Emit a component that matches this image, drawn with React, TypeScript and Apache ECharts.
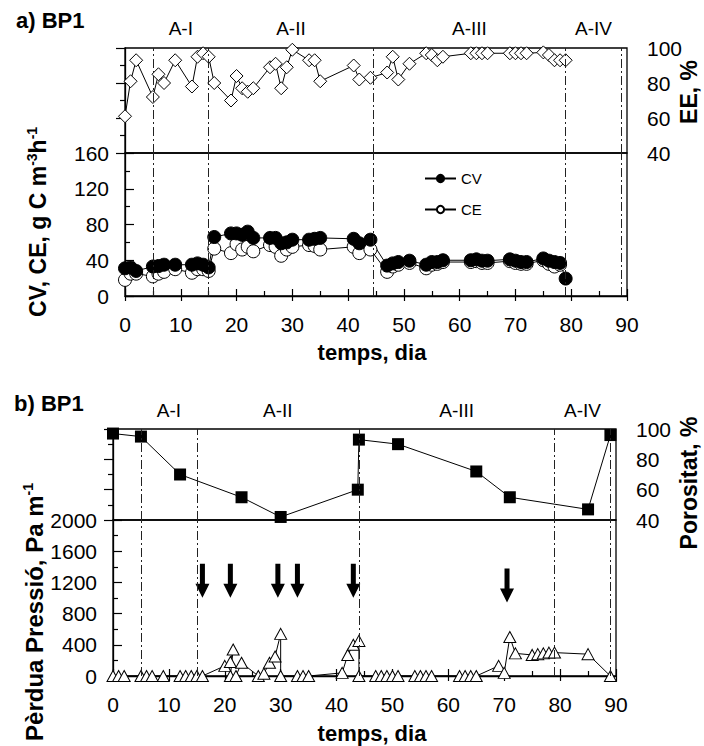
import React, { useEffect, useRef } from "react";
import * as echarts from "echarts";

// ---------- data ----------
// Panel a) : EE (%) and CV / CE (g C m-3 h-1) vs time (days)
const eeDays = [0, 1, 2, 5, 6, 7, 9, 12, 13, 14, 15, 16, 19, 20, 21, 22, 23, 26, 27, 28, 29, 30, 33, 34, 35, 41, 42, 44, 47, 48, 49, 51, 54, 55, 56, 57, 62, 63, 64, 65, 69, 70, 71, 72, 75, 76, 77, 78, 79];
const eeValues = [61, 81, 93, 72, 85, 80, 93, 78, 95, 97, 95, 80, 70, 84, 77, 75, 77, 89, 91, 77, 89, 99, 93, 93, 81, 90, 82, 83, 86, 95, 82, 91, 97, 96, 93, 95, 97, 97, 97, 97, 97, 97, 97, 97, 97.5, 96, 93, 93, 93];

const cvDays = [0, 1, 2, 5, 6, 7, 9, 12, 13, 14, 15, 16, 19, 20, 21, 22, 23, 26, 27, 28, 29, 30, 33, 34, 35, 41, 42, 44, 47, 48, 49, 51, 54, 55, 56, 57, 62, 63, 64, 65, 69, 70, 71, 72, 75, 76, 77, 78, 79];
const cvValues = [31, 32, 28, 33, 33.5, 35, 35, 35, 36.5, 35, 32, 66, 70, 70, 68.5, 72, 65, 65, 65, 59, 60, 63, 63, 64, 65, 64, 59, 63, 34, 36.5, 38, 39.5, 35, 38, 38, 40, 40, 41, 39.5, 39.5, 41, 39.5, 38, 38, 42, 39.5, 38, 37, 19.5];

const ceDays = [0, 1, 2, 5, 6, 7, 9, 12, 13, 14, 15, 16, 19, 20, 21, 22, 23, 26, 27, 28, 29, 30, 33, 34, 35, 41, 42, 44, 47, 48, 49, 51, 54, 55, 56, 57, 62, 63, 64, 65, 69, 70, 71, 72, 75, 76, 77, 78];
const ceValues = [18, 25, 25, 22, 25, 27, 30, 26, 30, 30, 28, 53, 48, 58, 52, 55, 50, 57, 55, 45, 52, 55, 57, 56, 52, 55, 48, 52, 27, 33, 35, 37, 31, 35, 36, 38, 38, 39, 37, 37, 39, 37, 36, 36, 40, 36, 33, 35];

// Panel b) : porosity (%) and pressure drop (Pa m-1) vs time (days)
const porDays = [0, 5, 12, 23, 30, 43.8, 44, 51, 65, 71, 85, 89];
const porValues = [97, 95, 70, 55, 42, 60, 93, 90, 72, 55, 47, 96];

const dpDays = [0, 1, 2, 5, 6, 7, 9, 12, 13, 14, 15, 16, 20, 21, 21.5, 21, 22, 23, 26, 27, 28, 29, 30, 30, 33, 34, 35, 41, 42, 43, 44, 44, 47, 48, 49, 50, 51, 54, 55, 56, 57, 62, 63, 64, 65, 69, 70, 71, 72, 75, 76, 77, 78, 79, 85, 89];
const dpValues = [0, 0, 0, 0, 0, 0, 0, 0, 0, 0, 0, 0, 130, 180, 340, 0, 0, 170, 0, 30, 170, 250, 540, 0, 0, 0, 0, 40, 270, 400, 450, 0, 0, 0, 0, 0, 0, 0, 0, 0, 0, 0, 0, 0, 0, 130, 40, 500, 290, 270, 280, 290, 300, 300, 280, 0];

// arrows (events) in panel b
const arrowDays = [16, 21, 29.5, 33, 43, 70.5];
const arrowLevels = [1220, 1220, 1220, 1220, 1220, 1160];

// phase boundaries and names
const phaseBoundsA = [5, 15, 44.5, 79, 89];
const phaseBoundsB = [5, 15, 44, 79, 89];
const phaseNames = ["A-I", "A-II", "A-III", "A-IV"];

// axis ticks
const xTicks = { min: 0, max: 90, interval: 10 };
const eeTicks = { min: 40, max: 100, interval: 20 };
const cvTicks = { min: 0, max: 160, interval: 40 };
const dpTicks = { min: 0, max: 2000, interval: 400 };

const FONT = "'Liberation Sans', Arial, Helvetica, sans-serif";

const ARROW = "path://M4.5,0 L9.5,0 L9.5,20 L14,20 L7,34 L0,20 L4.5,20 Z";

export default function App() {
  const ref = useRef<HTMLDivElement>(null);

  useEffect(() => {
    if (!ref.current) return;
    const chart = echarts.init(ref.current, null, { renderer: "svg" });

    const black = "#000";
    const lbl = { fontSize: 21, color: black, fontFamily: FONT, formatter: (v: number) => String(v) };

    const mk = (bounds: number[]) => ({
      silent: true,
      symbol: ["none", "none"],
      label: { show: false },
      lineStyle: { color: "#222", width: 1, type: [9, 3, 2, 3] },
      emphasis: { disabled: true },
      data: bounds.map((b) => ({ xAxis: b })),
    });

    const mids = (bounds: number[]) =>
      phaseNames.map((n, i) => ({ value: [(bounds[i] + bounds[i + 1]) / 2, 100], name: n }));

    const xMain = (gi: number) => ({
      type: "value",
      gridIndex: gi,
      ...xTicks,
      axisLine: { show: true, lineStyle: { color: black, width: 1.3 } },
      axisTick: { show: true, inside: true, length: 7, lineStyle: { color: black, width: 1.2 } },
      minorTick: { show: true, splitNumber: 2, length: 5, lineStyle: { color: black, width: 1.2 } },
      axisLabel: { ...lbl, margin: 18 },
      splitLine: { show: false },
      minorSplitLine: { show: false },
    });
    const xHidden = (gi: number) => ({ type: "value", gridIndex: gi, ...xTicks, show: false });
    const xHelper = (gi: number) => ({
      type: "value",
      gridIndex: gi,
      ...xTicks,
      axisLine: { show: false },
      axisTick: { show: true, inside: false, length: 5, lineStyle: { color: black, width: 1.2 } },
      axisLabel: { show: false },
      splitLine: { show: false },
    });

    const yAx = (gi: number, pos: string, t: any, margin: number) => ({
      type: "value",
      gridIndex: gi,
      position: pos,
      ...t,
      axisLine: { show: true, lineStyle: { color: black, width: 1.3 } },
      axisTick: { show: true, inside: true, length: 9, lineStyle: { color: black, width: 1.2 } },
      minorTick: { show: true, splitNumber: 2, length: 5, lineStyle: { color: black, width: 1.2 } },
      axisLabel: { ...lbl, margin },
      splitLine: { show: false },
      minorSplitLine: { show: false },
    });

    const gridBox = { show: true, borderColor: black, borderWidth: 1.3, backgroundColor: "transparent" };

    const lineStyle = { color: black, width: 1 };

    const phaseLabel = (distance: number) => ({
      show: true,
      position: "top",
      distance,
      formatter: (p: any) => p.name,
      fontSize: 19,
      color: black,
      opacity: 1,
      fontFamily: FONT,
    });

    const option: any = {
      animation: false,
      backgroundColor: "#fff",
      textStyle: { fontFamily: FONT },
      grid: [
        { left: 125, width: 502, top: 48, height: 105, ...gridBox },
        { left: 125, width: 502, top: 153, height: 143, ...gridBox },
        { left: 113, width: 503, top: 429, height: 91, ...gridBox },
        { left: 113, width: 503, top: 520, height: 156, ...gridBox },
        { left: 125, width: 502, top: 153, height: 143 },
        { left: 113, width: 503, top: 520, height: 156 },
      ],
      xAxis: [xHidden(0), xMain(1), xHidden(2), xMain(3), xHelper(4), xHelper(5)],
      yAxis: [
        yAx(0, "right", eeTicks, 20),
        yAx(1, "left", cvTicks, 16),
        yAx(2, "right", eeTicks, 20),
        yAx(3, "left", dpTicks, 16),
        { type: "value", gridIndex: 4, min: 0, max: 1, show: false },
        { type: "value", gridIndex: 5, min: 0, max: 1, show: false },
      ],
      legend: {
        data: ["CV", "CE"],
        orient: "vertical",
        left: 419,
        top: 166,
        itemWidth: 31,
        itemHeight: 9,
        itemGap: 16,
        selectedMode: false,
        textStyle: { fontSize: 15, color: black, fontFamily: FONT },
      },
      series: [
        {
          type: "line",
          name: "EE",
          xAxisIndex: 0,
          yAxisIndex: 0,
          data: eeDays.map((d, i) => [d, eeValues[i]]),
          symbol: "diamond",
          symbolSize: 13,
          itemStyle: { color: "#fff", borderColor: black, borderWidth: 1 },
          lineStyle,
          clip: false,
          markLine: mk(phaseBoundsA),
        },
        {
          type: "line",
          name: "CE",
          xAxisIndex: 1,
          yAxisIndex: 1,
          data: ceDays.map((d, i) => [d, ceValues[i]]),
          symbol: "circle",
          symbolSize: 13,
          itemStyle: { color: "#fff", borderColor: black, borderWidth: 1 },
          lineStyle,
          clip: false,
        },
        {
          type: "line",
          name: "CV",
          xAxisIndex: 1,
          yAxisIndex: 1,
          data: cvDays.map((d, i) => [d, cvValues[i]]),
          symbol: "circle",
          symbolSize: 13,
          itemStyle: { color: black, borderColor: black, borderWidth: 1 },
          lineStyle,
          clip: false,
          markLine: mk(phaseBoundsA),
        },
        {
          type: "line",
          name: "Porositat",
          xAxisIndex: 2,
          yAxisIndex: 2,
          data: porDays.map((d, i) => [d, porValues[i]]),
          symbol: "rect",
          symbolSize: 12,
          itemStyle: { color: black },
          lineStyle,
          clip: false,
          markLine: mk(phaseBoundsB),
        },
        {
          type: "line",
          name: "Perdua",
          xAxisIndex: 3,
          yAxisIndex: 3,
          data: dpDays.map((d, i) => [d, dpValues[i]]),
          symbol: "triangle",
          symbolSize: [12, 11],
          itemStyle: { color: "#fff", borderColor: black, borderWidth: 1 },
          lineStyle,
          clip: false,
          markLine: mk(phaseBoundsB),
        },
        {
          type: "scatter",
          name: "arrows",
          xAxisIndex: 3,
          yAxisIndex: 3,
          data: arrowDays.map((d, i) => [d, arrowLevels[i]]),
          symbol: ARROW,
          symbolSize: [14, 34],
          itemStyle: { color: black, opacity: 1 },
          clip: false,
          silent: true,
        },
        {
          type: "scatter",
          name: "phasesA",
          xAxisIndex: 0,
          yAxisIndex: 0,
          data: mids(phaseBoundsA),
          symbol: "circle",
          symbolSize: 1,
          itemStyle: { color: "rgba(0,0,0,0)", opacity: 1 },
          clip: false,
          silent: true,
          label: phaseLabel(10),
        },
        {
          type: "scatter",
          name: "phasesB",
          xAxisIndex: 2,
          yAxisIndex: 2,
          data: mids(phaseBoundsB),
          symbol: "circle",
          symbolSize: 1,
          itemStyle: { color: "rgba(0,0,0,0)", opacity: 1 },
          clip: false,
          silent: true,
          label: phaseLabel(9),
        },
      ],
      graphic: [
        {
          type: "text",
          x: 16,
          y: 20,
          style: { text: "a) BP1", fill: black, fontSize: 22, fontWeight: "bold", fontFamily: FONT, textVerticalAlign: "middle" },
        },
        {
          type: "text",
          x: 14,
          y: 403,
          style: { text: "b) BP1", fill: black, fontSize: 22, fontWeight: "bold", fontFamily: FONT, textVerticalAlign: "middle" },
        },
        {
          type: "text",
          x: 372,
          y: 352,
          style: { text: "temps, dia", fill: black, fontSize: 22, fontWeight: "bold", fontFamily: FONT, textAlign: "center", textVerticalAlign: "middle" },
        },
        {
          type: "text",
          x: 372,
          y: 733,
          style: { text: "temps, dia", fill: black, fontSize: 22, fontWeight: "bold", fontFamily: FONT, textAlign: "center", textVerticalAlign: "middle" },
        },
        {
          type: "text",
          x: 38,
          y: 222,
          rotation: Math.PI / 2,
          style: {
            text: "{b|CV, CE, g C m}{s|-3}{b|h}{s|-1}",
            textAlign: "center",
            textVerticalAlign: "middle",
            fill: black,
            rich: {
              b: { fontSize: 23, fontWeight: "bold", fontFamily: FONT, fill: black, lineHeight: 26, verticalAlign: "middle" },
              s: { fontSize: 14, fontWeight: "bold", fontFamily: FONT, fill: black, lineHeight: 14, verticalAlign: "top" },
            },
          },
        },
        {
          type: "text",
          x: 34,
          y: 612,
          rotation: Math.PI / 2,
          style: {
            text: "{b|Pèrdua Pressió, Pa m}{s|-1}",
            textAlign: "center",
            textVerticalAlign: "middle",
            fill: black,
            rich: {
              b: { fontSize: 24, fontWeight: "bold", fontFamily: FONT, fill: black, lineHeight: 26, verticalAlign: "middle" },
              s: { fontSize: 14, fontWeight: "bold", fontFamily: FONT, fill: black, lineHeight: 14, verticalAlign: "top" },
            },
          },
        },
        {
          type: "text",
          x: 689,
          y: 92,
          rotation: Math.PI / 2,
          style: { text: "EE, %", fill: black, fontSize: 23, fontWeight: "bold", fontFamily: FONT, textAlign: "center", textVerticalAlign: "middle" },
        },
        {
          type: "text",
          x: 689,
          y: 483,
          rotation: Math.PI / 2,
          style: { text: "Porositat, %", fill: black, fontSize: 23, fontWeight: "bold", fontFamily: FONT, textAlign: "center", textVerticalAlign: "middle" },
        },
      ],
    };

    chart.setOption(option);
    return () => chart.dispose();
  }, []);

  return (
    <div
      ref={ref}
      style={{ position: "fixed", left: 0, top: 0, width: 704, height: 746, background: "#fff" }}
    />
  );
}
